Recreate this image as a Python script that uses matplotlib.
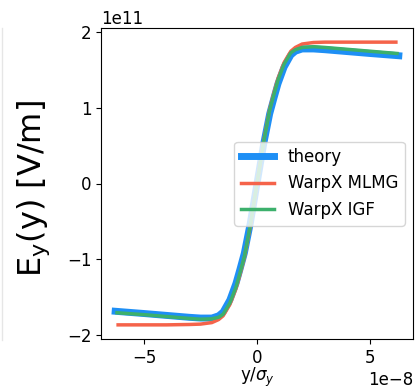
import matplotlib
matplotlib.use("Agg")
from matplotlib import pyplot as plt
from matplotlib.lines import Line2D
from matplotlib.ticker import MultipleLocator
import numpy as np

# y positions in units of 1e-8, fields in units of 1e11 V/m
x_theory = [-6.28, -5, -4, -3, -2.5, -2.0, -1.7, -1.5, -1.2, -0.93, -0.75, -0.56, -0.3, 0,
            0.3, 0.56, 0.75, 0.93, 1.2, 1.5, 1.7, 2.0, 2.5, 3, 4, 5, 6.28]
ey_theory = [-1.69, -1.72, -1.745, -1.77, -1.78, -1.78, -1.75, -1.70, -1.54, -1.32, -1.13, -0.92, -0.53, 0,
             0.53, 0.92, 1.13, 1.32, 1.54, 1.70, 1.75, 1.78, 1.78, 1.77, 1.745, 1.72, 1.69]

x_mlmg = [-6.15, -5, -4, -3, -2.5, -2.0, -1.7, -1.5, -1.2, -0.93, -0.75, -0.56, -0.3, 0,
          0.3, 0.56, 0.75, 0.93, 1.2, 1.5, 1.7, 2.0, 2.5, 3, 4, 5, 6.15]
ey_mlmg = [-1.87, -1.87, -1.87, -1.865, -1.86, -1.84, -1.80, -1.75, -1.60, -1.39, -1.20, -0.98, -0.57, 0,
           0.57, 0.98, 1.20, 1.39, 1.60, 1.75, 1.80, 1.845, 1.865, 1.87, 1.87, 1.87, 1.87]

x_igf = [-6.2, -5, -4, -3, -2.5, -2.0, -1.7, -1.5, -1.2, -0.93, -0.75, -0.56, -0.3, 0,
         0.3, 0.56, 0.75, 0.93, 1.2, 1.5, 1.7, 2.0, 2.5, 3, 4, 5, 6.2]
ey_igf = [-1.71, -1.735, -1.76, -1.785, -1.795, -1.79, -1.77, -1.73, -1.58, -1.37, -1.18, -0.97, -0.56, 0,
          0.56, 0.97, 1.18, 1.37, 1.58, 1.73, 1.77, 1.80, 1.81, 1.80, 1.775, 1.75, 1.72]

xscale = 1e-8
escale = 1e11

fig = plt.figure(figsize=(4.15, 3.91), dpi=100)
ax = fig.add_axes([101 / 415, 1 - 339 / 391, 312 / 415, 311 / 391])

ax.plot(np.array(x_theory) * xscale, np.array(ey_theory) * escale,
        color="#1e8ff5", lw=5, label="theory")
ax.plot(np.array(x_mlmg) * xscale, np.array(ey_mlmg) * escale,
        color="#f5634a", lw=2.5, label="WarpX MLMG")
ax.plot(np.array(x_igf) * xscale, np.array(ey_igf) * escale,
        color="#3cb06c", lw=2.5, label="WarpX IGF")

ax.xaxis.set_major_locator(MultipleLocator(5 * xscale))
ax.yaxis.set_major_locator(MultipleLocator(1 * escale))
ax.tick_params(labelsize=12)
ax.xaxis.get_offset_text().set_fontsize(12)
ax.yaxis.get_offset_text().set_fontsize(12)
ax.set_xlabel(r"y/$\sigma_y$", fontsize=12, labelpad=-1)
fig.text(34 / 415, 1 - 189 / 391, r"E$_\mathregular{y}$(y) [V/m]", fontsize=23,
         rotation=90, ha="center", va="center")
ax.legend(loc="center right", fontsize=12)

# edge of the neighbouring panel
fig.add_artist(Line2D([2 / 415, 2 / 415], [1 - 340 / 391, 1 - 28 / 391],
                      transform=fig.transFigure, color="#e6e6e6", lw=1))

fig.savefig("out.png", dpi=100)
